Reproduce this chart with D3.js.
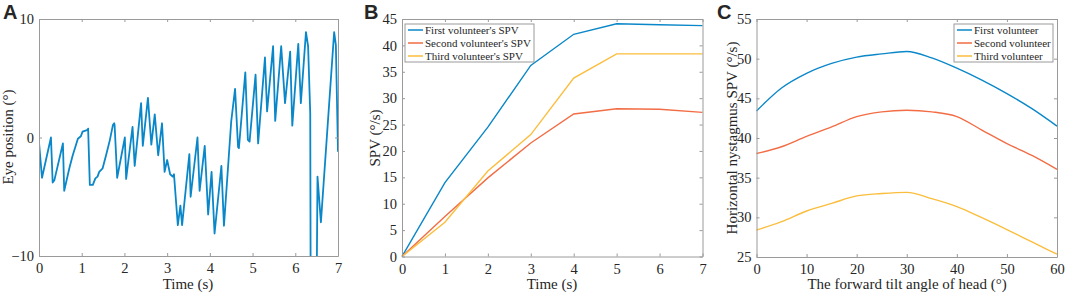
<!DOCTYPE html>
<html>
<head>
<meta charset="utf-8">
<script src="https://cdn.jsdelivr.net/npm/d3@7"></script>
<style>
  body { margin: 0; background: #fff; }
  svg text { font-family: "Liberation Serif", "Times New Roman", serif; fill: #262626; }
  .domain { stroke: #9a9a9a; }
  .tick line { stroke: #9a9a9a; }
</style>
</head>
<body>
<svg id="chart" width="1065" height="296"></svg>
<script>
// A: eye position trace
const eyeTime = [0, 0.07, 0.28, 0.32, 0.36, 0.56, 0.59, 0.71, 0.79, 0.91, 0.98, 1.02, 1.14, 1.15,
  1.19, 1.26, 1.32, 1.37, 1.41, 1.49, 1.57, 1.66, 1.73, 1.76, 1.77, 1.83, 2.01, 2.04, 2.19, 2.24,
  2.39, 2.43, 2.55, 2.63, 2.71, 2.79, 2.88, 2.94, 3.0, 3.07, 3.13, 3.16, 3.25, 3.31, 3.35, 3.52,
  3.55, 3.71, 3.76, 3.88, 3.96, 4.04, 4.11, 4.27, 4.33, 4.5, 4.59, 4.66, 4.68, 4.83, 4.89, 4.93,
  5.07, 5.13, 5.29, 5.34, 5.48, 5.53, 5.67, 5.76, 5.88, 5.93, 6.07, 6.13, 6.25, 6.3, 6.35, 6.36,
  6.5, 6.52, 6.6, 6.91, 6.95, 7.0];
const eyePos = [-0.4, -3.4, 0, -3.8, -3.6, -0.5, -4.5, -2.6, -1.5, -0.1, 0.1, 0.5, 0.65, 0.75,
  -4.0, -4.0, -3.45, -3.3, -2.9, -2.6, -1.5, -0.2, 1.05, 1.2, 1.05, -3.4, 0, -3.5, 0.9, -2.4,
  2.9, -0.7, 3.35, -0.6, 1.95, -1.5, 1.2, -2.9, -1.9, -3.1, -3.3, -3.1, -7.4, -5.75, -7.4, -1.4,
  -5.0, 0, -4.5, -0.7, -6.5, -2.9, -8.1, -2.4, -7.45, 1.35, 4.1, -0.8, -0.9, 5.5, -0.2, -0.35,
  5.3, -0.5, 6.75, 2.2, 7.7, 1.4, 7.7, 2.9, 7.25, 1.0, 7.9, 2.9, 8.9, 7.7, 2.05, -13,
  -13, -3.3, -7.15, 8.9, 7.8, -1.2];
const eyeXTicks = [0, 1, 2, 3, 4, 5, 6, 7];
const eyeYTicks = [-10, 0, 10];

// B: SPV over time
const spvTime = [0, 1, 2, 3, 4, 5, 6, 7];
const spvFirst = [0, 14.0, 24.5, 36.2, 42.1, 44.1, 43.9, 43.75];
const spvSecond = [0, 7.6, 14.9, 21.5, 27.0, 28.0, 27.9, 27.3];
const spvThird = [0, 6.5, 16.2, 23.1, 33.8, 38.4, 38.4, 38.4];
const spvNames = ["First volunteer's SPV", "Second volunteer's SPV", "Third volunteer's SPV"];
const spvYTicks = [0, 5, 10, 15, 20, 25, 30, 35, 40, 45];

// C: SPV vs head tilt angle
const tiltAngle = [0, 5, 10, 15, 20, 25, 30, 35, 40, 45, 50, 55, 60];
const tiltFirst = [43.4, 46.3, 48.15, 49.4, 50.2, 50.6, 50.9, 50.1, 48.8, 47.3, 45.6, 43.7, 41.5];
const tiltSecond = [38.05, 38.9, 40.2, 41.4, 42.7, 43.3, 43.5, 43.3, 42.7, 41.0, 39.3, 37.8, 36.05];
const tiltThird = [28.4, 29.45, 30.8, 31.75, 32.7, 33.0, 33.15, 32.35, 31.35, 29.95, 28.45, 26.9, 25.35];
const tiltNames = ['First volunteer', 'Second volunteer', 'Third volunteer'];
const tiltXTicks = [0, 10, 20, 30, 40, 50, 60];
const tiltYTicks = [25, 30, 35, 40, 45, 50, 55];

const colors = ['#0a87c8', '#f26d45', '#fbbd3c'];

const svg = d3.select('#chart');
const fmt = d3.format('~g');

// axes box with inward ticks on all four sides
function drawFrame(g, x, y, xTicks, yTicks) {
  const [x0, x1] = x.range();
  const [y0, y1] = y.range();
  g.append('g').attr('transform', `translate(0,${y0})`)
    .call(d3.axisBottom(x).tickValues(xTicks).tickFormat(fmt).tickSize(-3).tickSizeOuter(0).tickPadding(7))
    .call(a => a.selectAll('text').attr('font-size', 14.5).attr('font-family', null));
  g.append('g').attr('transform', `translate(0,${y1})`)
    .call(d3.axisTop(x).tickValues(xTicks).tickSize(-3).tickSizeOuter(0).tickFormat(''));
  g.append('g').attr('transform', `translate(${x0},0)`)
    .call(d3.axisLeft(y).tickValues(yTicks).tickFormat(fmt).tickSize(-3).tickSizeOuter(0).tickPadding(5))
    .call(a => a.selectAll('text').attr('font-size', 14.5).attr('font-family', null));
  g.append('g').attr('transform', `translate(${x1},0)`)
    .call(d3.axisRight(y).tickValues(yTicks).tickSize(-3).tickSizeOuter(0).tickFormat(''));
  g.selectAll('.tick text').attr('fill', '#262626');
}

function labels(g, letter, lx, xLabel, xc, yLabel, yx, yc) {
  g.append('text').attr('x', lx).attr('y', 18.5)
    .style('font-family', '"Liberation Sans", Arial, sans-serif')
    .attr('font-weight', 'bold').attr('font-size', 20).attr('fill', '#000').text(letter);
  g.append('text').attr('x', xc).attr('y', 289).attr('text-anchor', 'middle')
    .attr('font-size', 15).text(xLabel);
  g.append('text').attr('transform', `translate(${yx},${yc}) rotate(-90)`)
    .attr('text-anchor', 'middle').attr('font-size', 15).text(yLabel);
}

function legend(g, left, top, width, names) {
  g.append('rect').attr('x', left).attr('y', top).attr('width', width).attr('height', 38)
    .attr('fill', '#fff').attr('stroke', '#9a9a9a');
  names.forEach((n, i) => {
    const cy = top + 6 + i * 13;
    g.append('line').attr('x1', left + 3).attr('x2', left + 18).attr('y1', cy).attr('y2', cy)
      .attr('stroke', colors[i]).attr('stroke-width', 1.5);
    g.append('text').attr('x', left + 20).attr('y', cy + 4).attr('font-size', 11).text(n);
  });
}

// ---- Panel A
{
  const g = svg.append('g');
  const x = d3.scaleLinear().domain([0, 7]).range([39, 338]);
  const y = d3.scaleLinear().domain([-10, 10]).range([256, 19]);
  g.append('clipPath').attr('id', 'clipA').append('rect')
    .attr('x', 39).attr('y', 19).attr('width', 299).attr('height', 237);
  const line = d3.line().x((d, i) => x(eyeTime[i])).y(d => y(d));
  g.append('path').datum(eyePos).attr('d', line).attr('clip-path', 'url(#clipA)')
    .attr('fill', 'none').attr('stroke', colors[0]).attr('stroke-width', 1.8)
    .attr('stroke-linejoin', 'round');
  drawFrame(g, x, y, eyeXTicks, eyeYTicks);
  labels(g, 'A', 3, 'Time (s)', 188, 'Eye position (°)', 13, 137);
}

// ---- Panel B
{
  const g = svg.append('g');
  const x = d3.scaleLinear().domain([0, 7]).range([402, 702.5]);
  const y = d3.scaleLinear().domain([0, 45]).range([256.5, 19]);
  const line = d3.line().x((d, i) => x(spvTime[i])).y(d => y(d));
  [spvFirst, spvSecond, spvThird].forEach((s, i) => {
    g.append('path').datum(s).attr('d', line).attr('fill', 'none')
      .attr('stroke', colors[i]).attr('stroke-width', 1.4);
  });
  drawFrame(g, x, y, spvTime, spvYTicks);
  legend(g, 405, 24, 129, spvNames);
  labels(g, 'B', 364, 'Time (s)', 552, 'SPV (°/s)', 380, 138);
}

// ---- Panel C
{
  const g = svg.append('g');
  const x = d3.scaleLinear().domain([0, 60]).range([756.5, 1057]);
  const y = d3.scaleLinear().domain([25, 55]).range([257, 19]);
  const line = d3.line().curve(d3.curveMonotoneX).x((d, i) => x(tiltAngle[i])).y(d => y(d));
  [tiltFirst, tiltSecond, tiltThird].forEach((s, i) => {
    g.append('path').datum(s).attr('d', line).attr('fill', 'none')
      .attr('stroke', colors[i]).attr('stroke-width', 1.4);
  });
  drawFrame(g, x, y, tiltXTicks, tiltYTicks);
  legend(g, 954, 24, 99, tiltNames);
  labels(g, 'C', 717, 'The forward tilt angle of head (°)', 907, 'Horizontal nystagmus SPV (°/s)', 737, 138);
}
</script>
</body>
</html>
